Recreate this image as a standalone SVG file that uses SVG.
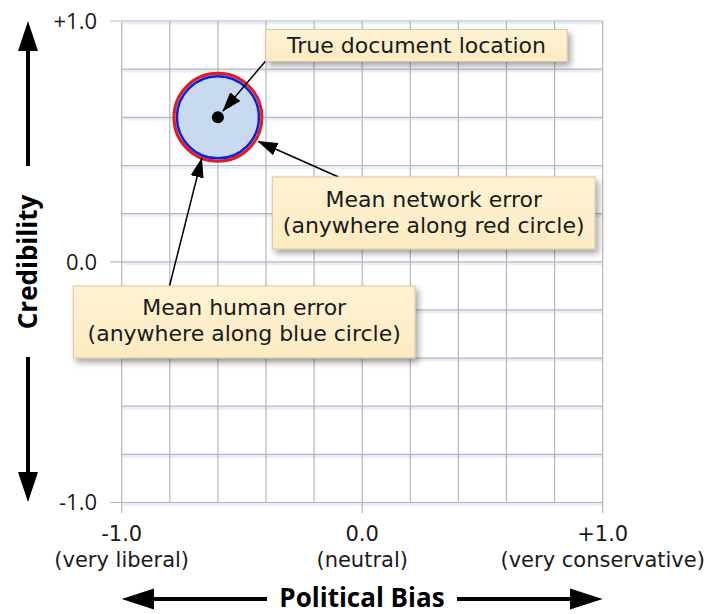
<svg xmlns="http://www.w3.org/2000/svg" width="707" height="614" viewBox="0 0 707 614">
  <style>
    .grid line { stroke: #B3B7BD; stroke-width: 1.2; }
    .glow line { stroke: #E9EFF8; stroke-width: 3; }
    .tick { font-family: "Open Sans", "Liberation Sans", sans-serif; font-size: 22px; fill: #1a1a1a; }
    .xt { font-family: "DejaVu Sans", "Liberation Sans", sans-serif; font-size: 21px; fill: #1a1a1a; text-anchor: middle; }
    .lbl { font-family: "DejaVu Sans", "Liberation Sans", sans-serif; font-size: 22px; fill: #1a1a1a; text-anchor: middle; }
    .title { font-family: "Open Sans", "Liberation Sans", sans-serif; font-size: 26px; font-weight: bold; fill: #000; text-anchor: middle; }
    .box { fill: url(#cream); stroke: #D3C7A6; stroke-width: 1; filter: url(#shadow); }
    .conn { stroke: #000; stroke-width: 1.5; fill: none; marker-end: url(#head); }
    .bigarrow { fill: #000; }
  </style>
  <defs>
    <linearGradient id="cream" x1="0" y1="0" x2="0" y2="1">
      <stop offset="0" stop-color="#FEF3D3"/>
      <stop offset="1" stop-color="#FCEBC2"/>
    </linearGradient>
    <filter id="shadow" x="-10%" y="-20%" width="130%" height="160%">
      <feDropShadow dx="3" dy="4" stdDeviation="3" flood-color="#000" flood-opacity="0.35"/>
    </filter>
    <marker id="head" markerUnits="userSpaceOnUse" markerWidth="20" markerHeight="14" viewBox="0 0 18 12" refX="17" refY="6" orient="auto">
      <path d="M0,0 L18,6 L0,12 z" fill="#000"/>
    </marker>
  </defs>

  <!-- faint line shading under horizontal grid lines -->
  <g class="glow">
    <line x1="122" y1="23" x2="603" y2="23"/>
    <line x1="122" y1="71" x2="603" y2="71"/>
    <line x1="122" y1="119" x2="603" y2="119"/>
    <line x1="122" y1="167.5" x2="603" y2="167.5"/>
    <line x1="122" y1="215.6" x2="603" y2="215.6"/>
    <line x1="122" y1="263.8" x2="603" y2="263.8"/>
    <line x1="122" y1="312" x2="603" y2="312"/>
    <line x1="122" y1="360" x2="603" y2="360"/>
    <line x1="122" y1="408.2" x2="603" y2="408.2"/>
    <line x1="122" y1="456.4" x2="603" y2="456.4"/>
    <line x1="122" y1="504.5" x2="603" y2="504.5"/>
  </g>

  <!-- grid -->
  <g id="grid" class="grid">
    <line x1="121.7" y1="21" x2="121.7" y2="513"/>
    <line x1="169.8" y1="21" x2="169.8" y2="502.5"/>
    <line x1="217.9" y1="21" x2="217.9" y2="502.5"/>
    <line x1="266" y1="21" x2="266" y2="502.5"/>
    <line x1="314.1" y1="21" x2="314.1" y2="502.5"/>
    <line x1="362.2" y1="21" x2="362.2" y2="513"/>
    <line x1="410.3" y1="21" x2="410.3" y2="502.5"/>
    <line x1="458.4" y1="21" x2="458.4" y2="502.5"/>
    <line x1="506.5" y1="21" x2="506.5" y2="502.5"/>
    <line x1="554.6" y1="21" x2="554.6" y2="502.5"/>
    <line x1="602.7" y1="21" x2="602.7" y2="513"/>
    <line x1="110" y1="21" x2="602.7" y2="21"/>
    <line x1="121.7" y1="69.2" x2="602.7" y2="69.2"/>
    <line x1="121.7" y1="117.3" x2="602.7" y2="117.3"/>
    <line x1="121.7" y1="165.5" x2="602.7" y2="165.5"/>
    <line x1="121.7" y1="213.6" x2="602.7" y2="213.6"/>
    <line x1="110" y1="261.8" x2="602.7" y2="261.8"/>
    <line x1="121.7" y1="309.9" x2="602.7" y2="309.9"/>
    <line x1="121.7" y1="358.1" x2="602.7" y2="358.1"/>
    <line x1="121.7" y1="406.2" x2="602.7" y2="406.2"/>
    <line x1="121.7" y1="454.4" x2="602.7" y2="454.4"/>
    <line x1="110" y1="502.5" x2="602.7" y2="502.5"/>
  </g>

  <!-- tick labels -->
  <g id="y-ticks" class="tick" text-anchor="end">
    <text x="97" y="29">+1.0</text>
    <text x="97" y="270">0.0</text>
    <text x="97" y="510">-1.0</text>
  </g>
  <g id="x-ticks" class="xt">
    <text x="121.7" y="541">-1.0</text>
    <text x="121.7" y="567">(very liberal)</text>
    <text x="362.2" y="541">0.0</text>
    <text x="362.2" y="567">(neutral)</text>
    <text x="602.7" y="541">+1.0</text>
    <text x="602.7" y="567">(very conservative)</text>
  </g>

  <!-- axis titles with arrows -->
  <g id="axis-credibility">
    <text class="title" transform="translate(37,262) rotate(-90)">Credibility</text>
    <path class="bigarrow" d="M26,166 L26,51 L18,51 L28,21 L38,51 L30,51 L30,166 z"/>
    <path class="bigarrow" d="M26,357 L26,472 L18,472 L28,502 L38,472 L30,472 L30,357 z"/>
  </g>
  <g id="axis-bias">
    <text class="title" x="362" y="607">Political Bias</text>
    <path class="bigarrow" d="M267,597 L154,597 L154,588.5 L121.7,599 L154,609.5 L154,601 L267,601 z"/>
    <path class="bigarrow" d="M457,597 L570,597 L570,588.5 L602.7,599 L570,609.5 L570,601 L457,601 z"/>
  </g>

  <!-- document location with error circles -->
  <g id="location">
    <circle cx="217.9" cy="117.3" r="44" fill="#C7DAF0" stroke="#E5191F" stroke-width="3"/>
    <circle cx="217.9" cy="117.3" r="41" fill="none" stroke="#1020D8" stroke-width="2.5"/>
    <circle cx="217.9" cy="117.3" r="6" fill="#000"/>
  </g>

  <!-- connectors -->
  <g id="connectors">
    <line class="conn" x1="265.7" y1="61" x2="223" y2="111"/>
    <line class="conn" x1="338.5" y1="177" x2="258.5" y2="141.5"/>
    <line class="conn" x1="169.5" y1="286" x2="201.7" y2="158.5"/>
  </g>

  <!-- callouts -->
  <g id="note-true-location">
    <rect class="box" x="265.7" y="29.5" width="301.5" height="32"/>
    <text class="lbl" x="416.5" y="53">True document location</text>
  </g>
  <g id="note-network-error">
    <rect class="box" x="272.3" y="177" width="322.7" height="72"/>
    <text class="lbl" x="433.7" y="207">Mean network error</text>
    <text class="lbl" x="433.7" y="233">(anywhere along red circle)</text>
  </g>
  <g id="note-human-error">
    <rect class="box" x="73.3" y="286" width="341.7" height="72"/>
    <text class="lbl" x="244.2" y="315">Mean human error</text>
    <text class="lbl" x="244.2" y="341">(anywhere along blue circle)</text>
  </g>
</svg>
